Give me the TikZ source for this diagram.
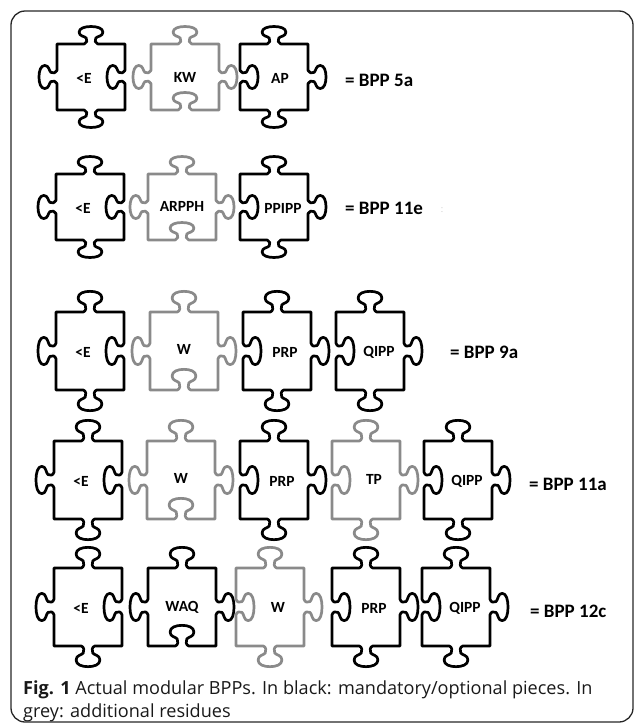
\documentclass[tikz,border=0pt]{standalone}
\usepackage{fontspec}
\setmainfont{Open Sans}
\newfontfamily\lblfont{Carlito}
\definecolor{pzgrey}{RGB}{138,138,138}

\tikzset{
  % one knob (tab for sign +1, blank for sign -1) on the top edge of the unit square,
  % rotated onto the other edges
  pzknob/.style 2 args={insert path={
    -- ([rotate=#1]-0.20,1)
    .. controls ([rotate=#1]-0.12,{1+(#2)*0.02}) and ([rotate=#1]-0.10,{1+(#2)*0.12}) .. ([rotate=#1]-0.14,{1+(#2)*0.18})
    .. controls ([rotate=#1]-0.19,{1+(#2)*0.24}) and ([rotate=#1]-0.35,{1+(#2)*0.23}) .. ([rotate=#1]-0.35,{1+(#2)*0.36})
    .. controls ([rotate=#1]-0.35,{1+(#2)*0.48}) and ([rotate=#1]-0.18,{1+(#2)*0.53}) .. ([rotate=#1]0,{1+(#2)*0.53})
    .. controls ([rotate=#1]0.18,{1+(#2)*0.53}) and ([rotate=#1]0.35,{1+(#2)*0.48}) .. ([rotate=#1]0.35,{1+(#2)*0.36})
    .. controls ([rotate=#1]0.35,{1+(#2)*0.23}) and ([rotate=#1]0.19,{1+(#2)*0.24}) .. ([rotate=#1]0.14,{1+(#2)*0.18})
    .. controls ([rotate=#1]0.10,{1+(#2)*0.12}) and ([rotate=#1]0.12,{1+(#2)*0.02}) .. ([rotate=#1]0.20,1)
  }},
  pics/pzpiece/.style args={#1/#2/#3/#4}{code={
    \draw[line width=2.7pt, line join=round]
      (-1,1) [pzknob={0}{#1}] -- (1,1) [pzknob={-90}{#2}] -- (1,-1)
      [pzknob={180}{#3}] -- (-1,-1) [pzknob={90}{#4}] -- cycle;
  }},
  % short pieces (first two rows) and tall pieces (last three rows)
  mand/.style={black, xscale=34, yscale=33},
  extra/.style={pzgrey, xscale=34, yscale=33},
  mandt/.style={black, xscale=34, yscale=39},
  extrat/.style={pzgrey, xscale=34, yscale=39},
  plbl/.style={font=\lblfont\bfseries\fontsize{15.5}{16}\selectfont, text=black, inner sep=0pt},
  bpp/.style={font=\lblfont\bfseries\fontsize{19}{20}\selectfont, anchor=west, inner sep=0pt},
  capt/.style={font=\fontsize{18.1}{20}\selectfont, anchor=base west, inner sep=0pt, text=black!90}
}

\begin{document}
\begin{tikzpicture}[x=1pt, y=1pt]
\useasboundingbox (0,0) rectangle (636,-726);
\draw[line width=1.3pt, rounded corners=14pt, black!85] (11,-11) rectangle (633,-722);

% row 1
\pic[mand]  (a1) at (91,-77)  {pzpiece={1/-1/1/1}};
\pic[extra] (a2) at (185,-77) {pzpiece={1/1/-1/1}};
\pic[mand]  (a3) at (274,-77) {pzpiece={1/1/1/-1}};
\node[plbl] (ta1) at (84,-78)  {<E};
\node[plbl] (ta2) at (185,-77) {KW};
\node[plbl] (ta3) at (280,-78) {AP};
\node[bpp]  (ra)  at (345,-80) {= BPP 5a};

% row 2
\pic[mand]  (b1) at (90,-207)  {pzpiece={1/-1/1/1}};
\pic[extra] (b2) at (182,-207) {pzpiece={1/1/-1/1}};
\pic[mand]  (b3) at (274,-207) {pzpiece={1/1/1/-1}};
\node[plbl] (tb1) at (83,-208)  {<E};
\node[plbl] (tb2) at (182,-206) {ARPPH};
\node[plbl] (tb3) at (283,-208) {PPIPP};
\node[bpp]  (rb)  at (345,-208) {= BPP 11e};
\node[text=black!20, font=\fontsize{9}{9}\selectfont] (rbm) at (442,-210) {:};

% row 3
\pic[mandt]  (c1) at (90,-351)  {pzpiece={1/-1/1/1}};
\pic[extrat] (c2) at (184,-351) {pzpiece={1/1/-1/1}};
\pic[mandt]  (c3) at (277,-351) {pzpiece={1/1/1/-1}};
\pic[mandt]  (c4) at (370,-351) {pzpiece={1/1/1/-1}};
\node[plbl] (tc1) at (83,-352)  {<E};
\node[plbl] (tc2) at (184,-349) {W};
\node[plbl] (tc3) at (285,-352) {PRP};
\node[plbl] (tc4) at (379,-352) {QIPP};
\node[bpp]  (rc)  at (450,-352) {= BPP 9a};

% row 4
\pic[mandt]  (d1) at (88,-480)  {pzpiece={1/-1/1/1}};
\pic[extrat] (d2) at (181,-480) {pzpiece={1/1/-1/1}};
\pic[mandt]  (d3) at (274,-480) {pzpiece={1/1/1/-1}};
\pic[extrat] (d4) at (366,-480) {pzpiece={1/1/1/-1}};
\pic[mandt]  (d5) at (458,-480) {pzpiece={1/1/1/-1}};
\node[plbl] (td1) at (81,-481)  {<E};
\node[plbl] (td2) at (181,-478) {W};
\node[plbl] (td3) at (282,-481) {PRP};
\node[plbl] (td4) at (374,-479) {TP};
\node[plbl] (td5) at (467,-481) {QIPP};
\node[bpp]  (rd)  at (529,-484) {= BPP 11a};

% row 5
\pic[mandt]  (e1) at (88,-607)  {pzpiece={1/-1/1/1}};
\pic[mandt]  (e2) at (182,-607) {pzpiece={1/1/-1/1}};
\pic[extrat] (e3) at (270,-607) {pzpiece={1/1/1/-1}};
\pic[mandt]  (e4) at (366,-607) {pzpiece={1/1/1/-1}};
\pic[mandt]  (e5) at (456,-607) {pzpiece={1/1/1/-1}};
\node[plbl] (te1) at (81,-608)  {<E};
\node[plbl] (te2) at (182,-607) {WAQ};
\node[plbl] (te3) at (278,-607) {W};
\node[plbl] (te4) at (374,-608) {PRP};
\node[plbl] (te5) at (465,-608) {QIPP};
\node[bpp]  (re)  at (530,-611) {= BPP 12c};

% caption
\node[capt] (cap1) at (23,-694) {\textbf{Fig. 1} Actual modular BPPs. In black: mandatory/optional pieces. In};
\node[capt] (cap2) at (23,-717) {grey: additional residues};
\end{tikzpicture}
\end{document}
